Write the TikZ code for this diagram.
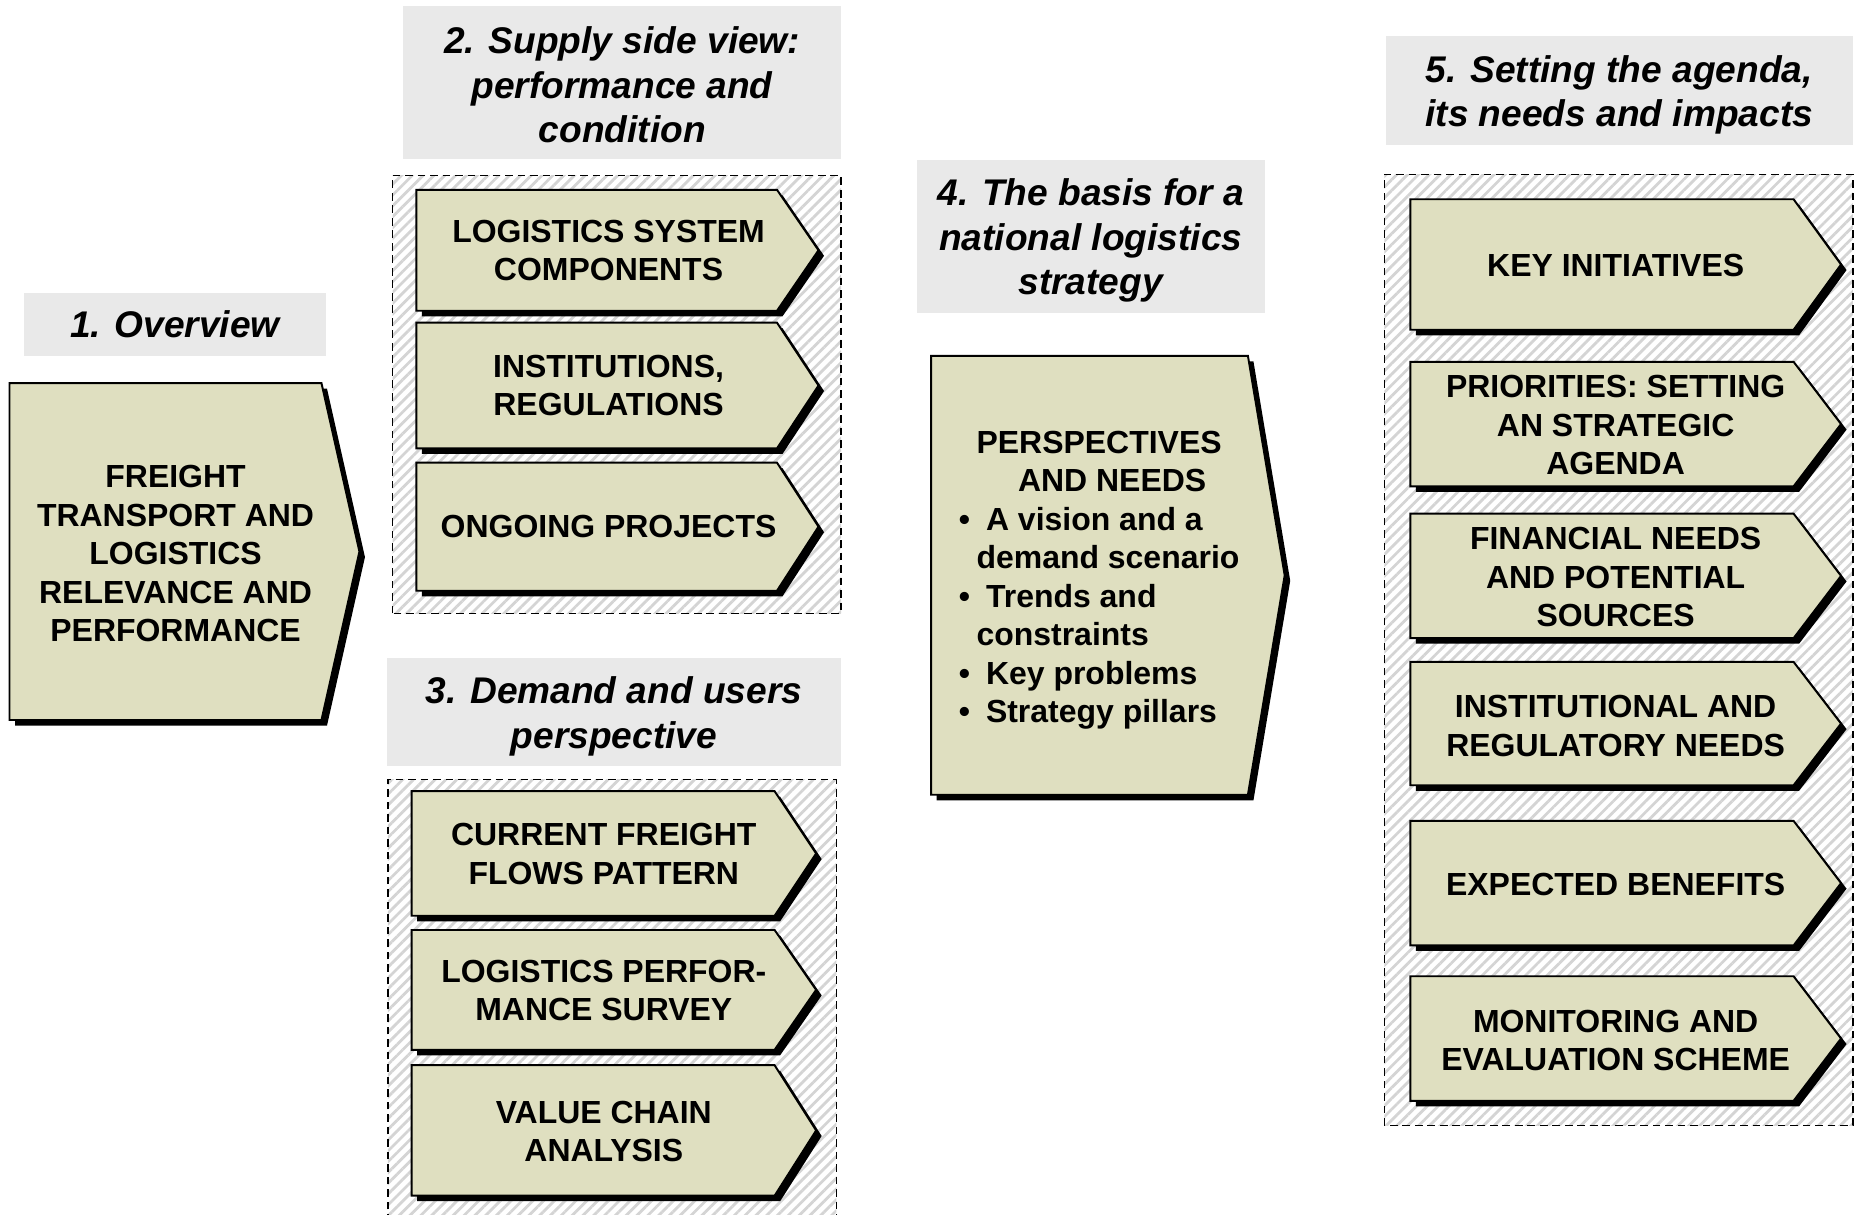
\documentclass[tikz,border=0pt]{standalone}
\usepackage{fontspec}
\setmainfont{Liberation Sans}
\usepackage{tikz}
\usetikzlibrary{patterns.meta}
\usetikzlibrary{shadows}

\definecolor{chevfill}{RGB}{223,223,192}
\definecolor{headgray}{RGB}{233,233,233}
\definecolor{hatchgray}{RGB}{212,212,212}

\begin{document}
\begin{tikzpicture}[
  chev/.style={draw=black,line width=1.4pt,fill=chevfill,
    drop shadow={shadow xshift=0.14cm,shadow yshift=-0.14cm,opacity=1,fill=black}},
  head/.style={fill=headgray,draw=none},
  grp/.style={draw=black,line width=1pt,dash pattern=on 5.5pt off 3.5pt,
    pattern={Lines[angle=45,distance=5.5pt,line width=2pt]},pattern color=hatchgray},
  htext/.style={font=\fontsize{26.7}{32.2}\selectfont\bfseries\itshape,align=center},
  btext/.style={font=\fontsize{23}{27.7}\selectfont\bfseries,align=center,inner sep=0pt}]
\useasboundingbox (0,0) rectangle (47.04,30.72);
\clip (0,0) rectangle (47.04,30.72);

% headers
\draw[head] (0.60,21.72) rectangle (8.25,23.31) node[midway,htext] (h1) {1. Overview};
\draw[head] (10.20,26.70) rectangle (21.27,30.57) node[midway,htext,yshift=-0.06cm] (h2) {2. Supply side view:\\performance and\\condition};
\draw[head] (9.78,11.34) rectangle (21.27,14.07) node[midway,htext,yshift=-0.1cm] (h3) {3. Demand and users\\perspective};
\draw[head] (23.19,22.80) rectangle (31.98,26.67) node[midway,htext,yshift=-0.1cm] (h4) {4. The basis for a\\national logistics\\strategy};
\draw[head] (35.04,27.06) rectangle (46.86,29.82) node[midway,htext,yshift=-0.12cm] (h5) {5. Setting the agenda,\\its needs and impacts};

% dashed groups
\draw[grp] (9.93,15.21) rectangle (21.27,26.28);
\draw[grp] (9.81,-0.50) rectangle (21.15,11.01);
\draw[grp] (35.01,2.25) rectangle (46.86,26.31);

% 1. overview
\draw[chev] (0.24,12.51) -- (0.24,21.03) -- (8.13,21.03) -- (9.09,16.77) -- (8.13,12.51) -- cycle;
\node[btext] (freight) at (4.44,16.72) {FREIGHT\\TRANSPORT AND\\LOGISTICS\\RELEVANCE AND\\PERFORMANCE};

% 2. supply side
\draw[chev] (10.53,22.86) -- (10.53,25.92) -- (19.65,25.92) -- (20.70,24.39) -- (19.65,22.86) -- cycle;
\node[btext] (syscomp) at (15.39,24.39) {LOGISTICS SYSTEM\\COMPONENTS};
\draw[chev] (10.53,19.38) -- (10.53,22.56) -- (19.65,22.56) -- (20.70,20.97) -- (19.65,19.38) -- cycle;
\node[btext] (instit) at (15.39,20.97) {INSTITUTIONS,\\REGULATIONS};
\draw[chev] (10.53,15.78) -- (10.53,19.02) -- (19.65,19.02) -- (20.70,17.40) -- (19.65,15.78) -- cycle;
\node[btext] (ongoing) at (15.39,17.40) {ONGOING PROJECTS};

% 3. demand side
\draw[chev] (10.41,7.56) -- (10.41,10.71) -- (19.59,10.71) -- (20.64,9.135) -- (19.59,7.56) -- cycle;
\node[btext] (flows) at (15.27,9.12) {CURRENT FREIGHT\\FLOWS PATTERN};
\draw[chev] (10.41,4.17) -- (10.41,7.20) -- (19.59,7.20) -- (20.64,5.685) -- (19.59,4.17) -- cycle;
\node[btext] (survey) at (15.27,5.67) {LOGISTICS PERFOR-\\MANCE SURVEY};
\draw[chev] (10.41,0.48) -- (10.41,3.78) -- (19.59,3.78) -- (20.64,2.13) -- (19.59,0.48) -- cycle;
\node[btext] (chain) at (15.27,2.11) {VALUE CHAIN\\ANALYSIS};

% 4. basis
\draw[chev] (23.55,10.62) -- (23.55,21.72) -- (31.56,21.72) -- (32.49,16.17) -- (31.56,10.62) -- cycle;
\node[btext,align=left,anchor=west] (needs) at (24.24,16.05) {\hspace*{0.45cm}PERSPECTIVES\\
\hspace*{1.5cm}AND NEEDS\\
\makebox[0.69cm][l]{\textbullet}A vision and a\\
\hspace*{0.45cm}demand scenario\\
\makebox[0.69cm][l]{\textbullet}Trends and\\
\hspace*{0.45cm}constraints\\
\makebox[0.69cm][l]{\textbullet}Key problems\\
\makebox[0.69cm][l]{\textbullet}Strategy pillars};

% 5. agenda
\draw[chev] (35.67,22.38) -- (35.67,25.68) -- (45.36,25.68) -- (46.56,24.03) -- (45.36,22.38) -- cycle;
\node[btext] (keyinit) at (40.86,24.00) {KEY INITIATIVES};
\draw[chev] (35.67,18.42) -- (35.67,21.57) -- (45.36,21.57) -- (46.56,19.995) -- (45.36,18.42) -- cycle;
\node[btext] (prior) at (40.86,19.965) {PRIORITIES: SETTING\\AN STRATEGIC\\AGENDA};
\draw[chev] (35.67,14.58) -- (35.67,17.73) -- (45.36,17.73) -- (46.56,16.155) -- (45.36,14.58) -- cycle;
\node[btext] (finance) at (40.86,16.125) {FINANCIAL NEEDS\\AND POTENTIAL\\SOURCES};
\draw[chev] (35.67,10.86) -- (35.67,13.98) -- (45.36,13.98) -- (46.56,12.42) -- (45.36,10.86) -- cycle;
\node[btext] (regul) at (40.86,12.36) {INSTITUTIONAL AND\\REGULATORY NEEDS};
\draw[chev] (35.67,6.81) -- (35.67,9.96) -- (45.36,9.96) -- (46.56,8.385) -- (45.36,6.81) -- cycle;
\node[btext] (benefit) at (40.86,8.34) {EXPECTED BENEFITS};
\draw[chev] (35.67,2.88) -- (35.67,6.03) -- (45.36,6.03) -- (46.56,4.455) -- (45.36,2.88) -- cycle;
\node[btext] (monitor) at (40.86,4.41) {MONITORING AND\\EVALUATION SCHEME};

\end{tikzpicture}
\end{document}
